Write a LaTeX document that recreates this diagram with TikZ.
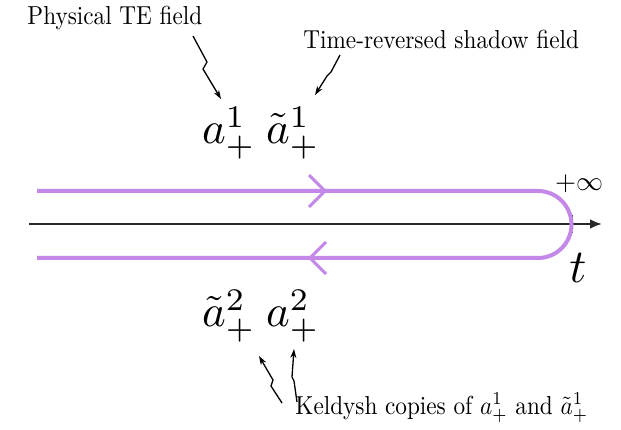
\documentclass[tikz,border=0pt]{standalone}
\usetikzlibrary{arrows.meta}
\definecolor{contour}{RGB}{196,136,232}
\definecolor{axisgray}{RGB}{40,40,40}
\tikzset{
  lbl/.style={font=\fontsize{10}{12}\selectfont, inner sep=0pt, xscale=2.32, yscale=2.6},
  mathlbl/.style={font=\fontsize{10}{12}\selectfont, inner sep=0pt, scale=4.5},
  zap/.style={line width=1.3pt, -{Stealth[length=9pt,width=6pt]}},
  contourline/.style={contour, line width=4pt},
  chev/.style={contour, line width=3pt, line join=miter},
}
\begin{document}
\begin{tikzpicture}[x=1pt,y=-1pt]
\useasboundingbox (0,0) rectangle (621,430);
\fill[white] (0,0) rectangle (621,430);
% axis
\draw[axisgray, line width=2.4pt, -{Latex[length=12pt,width=10pt]}] (29,224) coordinate (ax0) -- (602,224) coordinate (ax1);
\draw[axisgray, line width=1.6pt] (572,215) -- (572,233);
% contour
\draw[contourline] (37,191) coordinate (c0) -- (538,191) arc(-90:90:33.5) -- (37,258) coordinate (c1);
\draw[chev] (309,175) -- (325,191) -- (309,207);
\draw[chev] (326,242) -- (310,258) -- (326,274);
% labels
\node[mathlbl, scale=0.6] (inf) at (579,184) {$+\infty$};
\node[mathlbl, scale=1.05] (tl) at (578,268) {$t$};
\node[mathlbl] (a1) at (229,133) {$a^1_+$};
\node[mathlbl] (at1) at (293,133) {$\tilde a^1_+$};
\node[mathlbl] (at2) at (229,316) {$\tilde a^2_+$};
\node[mathlbl] (a2) at (293,316) {$a^2_+$};
\node[lbl, anchor=west] (phys) at (27,18) {Physical TE field};
\node[lbl, anchor=west] (shadow) at (303,39) {Time-reversed shadow field};
\node[lbl, anchor=west] (keld) at (295,408) {Keldysh copies of $a^1_+$ and $\tilde a^1_+$};
% zigzag arrows
\coordinate (z1) at (193,36);
\coordinate (z2) at (340,55);
\coordinate (z3) at (282,403);
\coordinate (z4) at (297,402);
\draw[zap] (z1) -- (207,62) -- (203,69) -- (221,99);
\draw[zap] (z2) -- (331,72) -- (327,76) -- (315,95);
\draw[zap] (z3) -- (271,386) -- (273,380) -- (259,356);
\draw[zap] (z4) -- (294,381) -- (292,377) -- (294,349);
\end{tikzpicture}
\end{document}
